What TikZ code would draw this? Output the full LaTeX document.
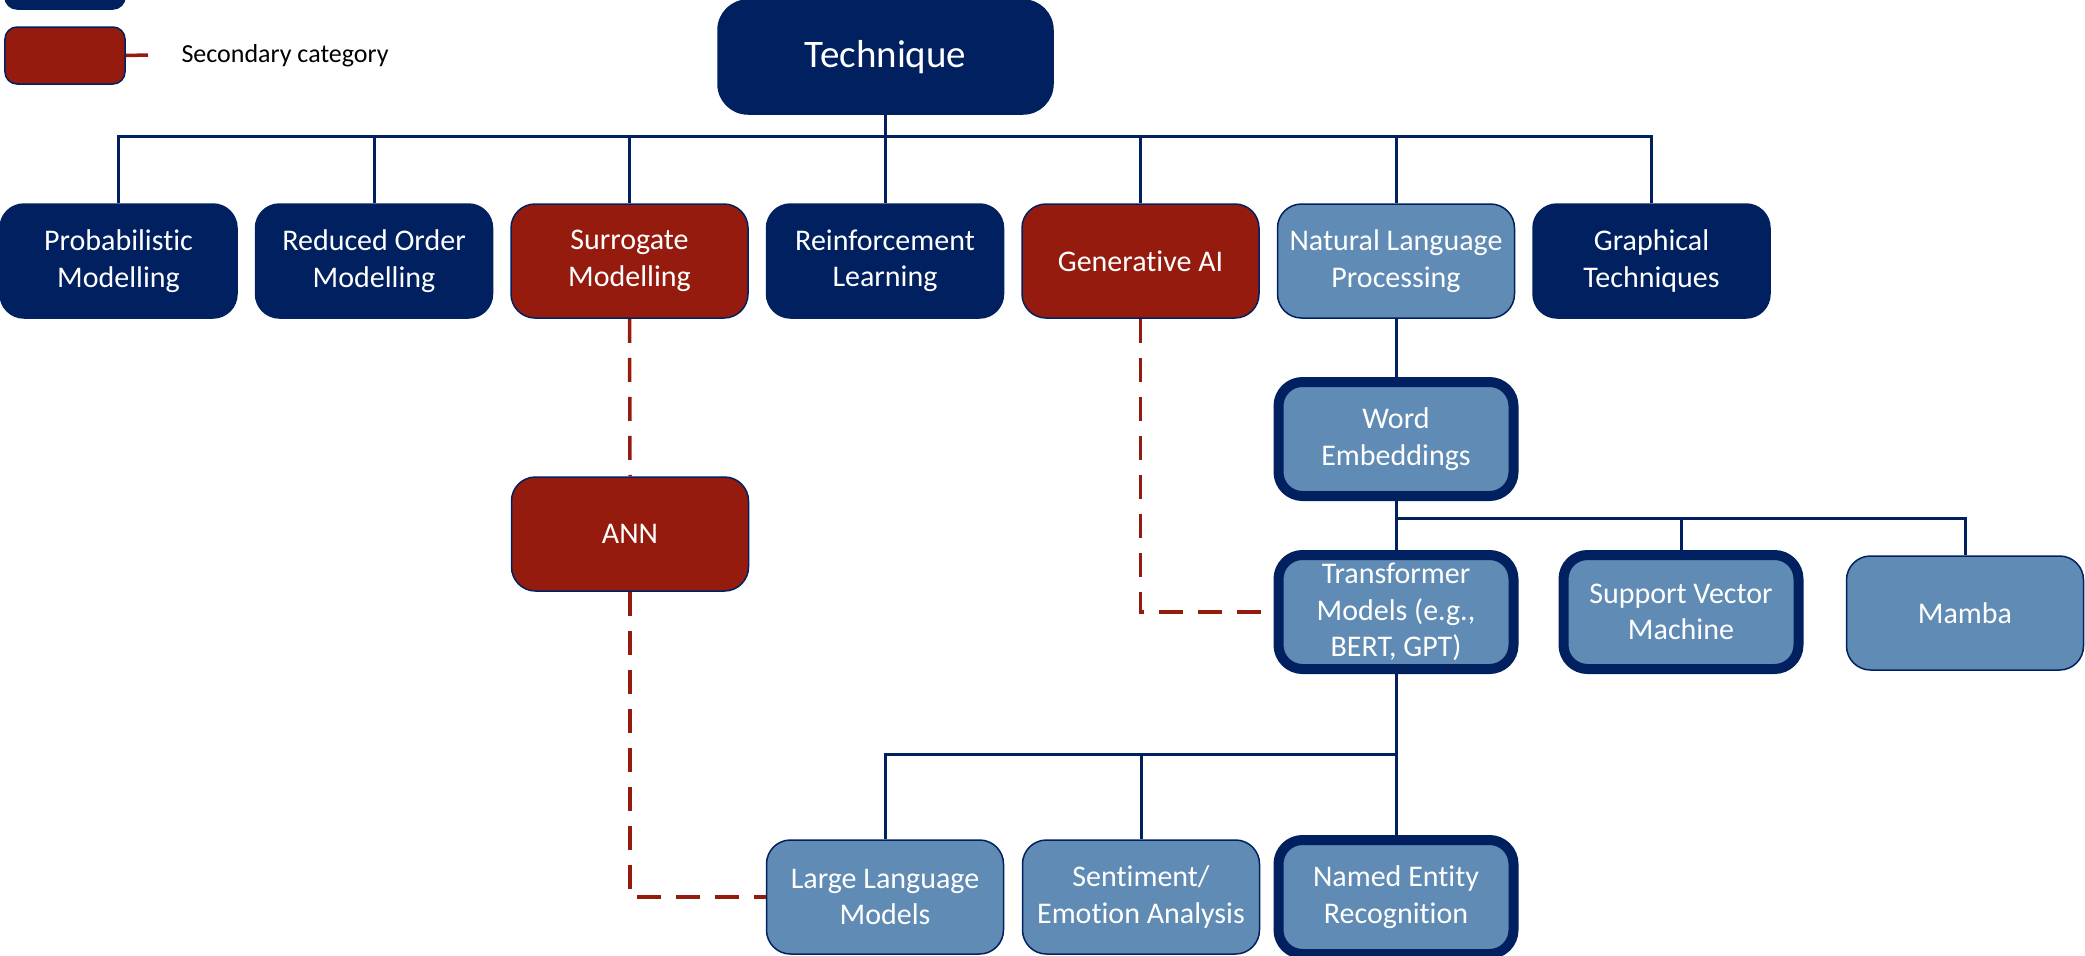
\documentclass[tikz,border=0pt]{standalone}
\usepackage{fontspec}
\setmainfont{Carlito}[Ligatures=NoCommon]
\definecolor{navy}{RGB}{0,32,96}
\definecolor{brick}{RGB}{149,27,14}
\definecolor{steel}{RGB}{95,139,180}

\tikzset{
  box/.style={rounded corners=24bp, minimum width=237bp, minimum height=114bp,
    inner sep=0pt, align=center, text=white,
    font=\fontsize{30bp}{36.5bp}\selectfont, draw=navy, line width=1.5bp},
  primary/.style={box, fill=navy},
  secondary/.style={box, fill=brick},
  nlp/.style={box, fill=steel},
  keybox/.style={nlp, line width=10bp, minimum width=235bp},
  tree/.style={draw=navy, line width=3bp},
  link/.style={draw=brick, line width=3.5bp, dash pattern=on 24bp off 15bp},
}

\begin{document}
\begin{tikzpicture}[x=1bp, y=-1bp]
\useasboundingbox (0,0) rectangle (2085,956);

% legend
\begin{scope}
  \clip (0,0) rectangle (2085,956);
  \node[fill=navy, draw=navy, line width=1.5bp, rounded corners=12bp,
        minimum width=120bp, minimum height=60bp] (keyprim) at (65,-21) {};
\end{scope}
\node[fill=brick, draw=navy, line width=1.5bp, rounded corners=12bp,
      minimum width=120bp, minimum height=57bp] (keysec) at (65,55.5) {};
\coordinate (keyend) at (148,55);
\draw[draw=brick, line width=3.5bp] (keysec.east) -- (keyend);
\node[anchor=west, font=\fontsize{26bp}{30bp}\selectfont] (keytxt) at (178,56) {Secondary category};

% root
\node[primary, minimum width=335bp, rounded corners=30bp,
      font=\fontsize{39bp}{46bp}\selectfont] (tech) at (885.5,57) {Technique};

% first level
\node[primary]   (prob) at (118.5,261) {Probabilistic\\Modelling};
\node[primary]   (rom)  at (374,261)   {Reduced Order\\Modelling};
\node[secondary] (sur)  at (629.5,261) {Surrogate\\Modelling};
\node[primary]   (rl)   at (885,261)   {Reinforcement\\Learning};
\node[secondary] (gen)  at (1140.5,261){Generative AI};
\node[nlp]       (nlp)  at (1396,261)  {Natural Language\\Processing};
\node[primary]   (gra)  at (1651.5,261){Graphical\\Techniques};

% second level
\node[secondary] (ann) at (630,534)  {ANN};
\node[keybox]    (we)  at (1396,439) {Word\\Embeddings};
\node[keybox]    (tf)  at (1396,612) {Transformer\\Models (e.g.,\\BERT, GPT)};
\node[keybox]    (svm) at (1681,612) {Support Vector\\Machine};
\node[nlp]       (mam) at (1965,613) {Mamba};

% third level
\node[nlp]    (llm) at (885,897)  {Large Language\\Models};
\node[nlp]    (sen) at (1141,897) {Sentiment/\\Emotion Analysis};
\node[keybox] (ner) at (1396,897) {Named Entity\\Recognition};

% tree connectors
\coordinate (busa) at (0,136);
\coordinate (busb) at (0,518);
\coordinate (busc) at (0,754);
\draw[tree] (tech.south) -- (tech.south |- busa);
\foreach \n in {prob,rom,sur,rl,gen,nlp,gra}
  \draw[tree] (\n.north) |- (tech.south |- busa);
\draw[tree] (nlp.south) -- (we.north);
\foreach \n in {tf,svm,mam}
  \draw[tree] (\n.north) |- (we.south |- busb);
\draw[tree] (we.south) -- (we.south |- busb);
\draw[tree] (tf.south) -- (tf.south |- busc);
\foreach \n in {llm,sen,ner}
  \draw[tree] (\n.north) |- (tf.south |- busc);

% secondary links
\draw[link] (sur.south) -- (ann.north);
\draw[link] (ann.south) |- (llm.west);
\draw[link] (gen.south) |- (tf.west);
\end{tikzpicture}
\end{document}
